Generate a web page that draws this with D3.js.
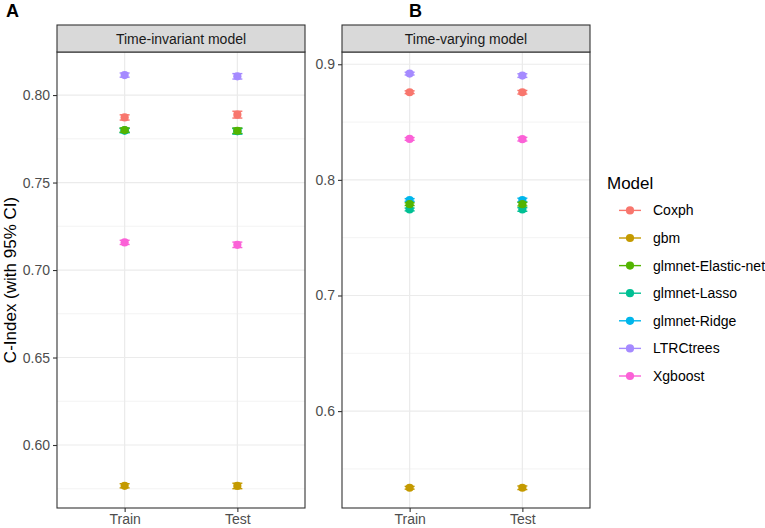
<!DOCTYPE html>
<html>
<head>
<meta charset="utf-8">
<script src="https://cdn.jsdelivr.net/npm/d3@7"></script>
<style>
  body { margin: 0; background: #fff; }
  svg { font-family: "Liberation Sans", Arial, sans-serif; }
</style>
</head>
<body>
<svg id="chart" width="765" height="528"></svg>
<script>
// data
const models = ["Coxph", "gbm", "glmnet-Elastic-net", "glmnet-Lasso", "glmnet-Ridge", "LTRCtrees", "Xgboost"];
const colors = ["#F8766D", "#C49A00", "#53B400", "#00C094", "#00B6EB", "#A58AFF", "#FB61D7"];
const sets = ["Train", "Test"];

// time-invariant model (panel A)
const invTrain = [0.7872, 0.5767, 0.7800, 0.7797, 0.7798, 0.8114, 0.7158];
const invTest  = [0.7888, 0.5766, 0.7796, 0.7793, 0.7794, 0.8107, 0.7144];
const invErr   = [0.0015, 0.0012, 0.0012, 0.0012, 0.0012, 0.0012, 0.0012];

// time-varying model (panel B)
const varTrain = [0.8758, 0.5337, 0.7790, 0.7744, 0.7826, 0.8919, 0.8354];
const varTest  = [0.8758, 0.5337, 0.7790, 0.7744, 0.7826, 0.8902, 0.8352];
const varErr   = [0.0012, 0.0012, 0.0012, 0.0012, 0.0012, 0.0012, 0.0012];

const invTicks = [0.60, 0.65, 0.70, 0.75, 0.80];
const invMinor = [0.575, 0.625, 0.675, 0.725, 0.775];
const varTicks = [0.6, 0.7, 0.8, 0.9];
const varMinor = [0.55, 0.65, 0.75, 0.85];

const svg = d3.select("#chart");
const panelTop = 52, panelBottom = 508, stripTop = 25;
const color = d3.scaleOrdinal().domain(models).range(colors);
const ptR = 4.1;

function panel(opts) {
  const {x0, x1, domain, ticks, minor, fmt, train, test, err, title, letter, letterX} = opts;
  const g = svg.append("g");
  const x = d3.scalePoint().domain(sets).range([x0, x1]).padding(0.6);
  const y = d3.scaleLinear().domain(domain).range([panelBottom, panelTop]);

  // grid
  g.selectAll("line.minor").data(minor).enter().append("line")
    .attr("x1", x0).attr("x2", x1)
    .attr("y1", d => y(d)).attr("y2", d => y(d))
    .attr("stroke", "#EBEBEB").attr("stroke-width", 0.6);
  g.selectAll("line.major").data(ticks).enter().append("line")
    .attr("x1", x0).attr("x2", x1)
    .attr("y1", d => y(d)).attr("y2", d => y(d))
    .attr("stroke", "#EBEBEB").attr("stroke-width", 1.2);
  g.selectAll("line.vmajor").data(sets).enter().append("line")
    .attr("x1", d => x(d)).attr("x2", d => x(d))
    .attr("y1", panelTop).attr("y2", panelBottom)
    .attr("stroke", "#EBEBEB").attr("stroke-width", 1.2);

  // points + error bars, drawn in reverse so the greens land on top of blue
  const pts = [];
  models.forEach((m, i) => {
    pts.push({m, set: "Train", v: train[i], e: err[i]});
    pts.push({m, set: "Test", v: test[i], e: err[i] * 1.3});
  });
  const order = [6, 5, 4, 3, 2, 1, 0];
  const sorted = [];
  order.forEach(i => pts.filter(p => p.m === models[i]).forEach(p => sorted.push(p)));

  const cap = 5;
  const pg = g.selectAll("g.pt").data(sorted).enter().append("g");
  pg.append("line")
    .attr("x1", d => x(d.set)).attr("x2", d => x(d.set))
    .attr("y1", d => y(d.v - d.e)).attr("y2", d => y(d.v + d.e))
    .attr("stroke", d => color(d.m)).attr("stroke-width", 1.4);
  pg.append("line")
    .attr("x1", d => x(d.set) - cap).attr("x2", d => x(d.set) + cap)
    .attr("y1", d => y(d.v - d.e)).attr("y2", d => y(d.v - d.e))
    .attr("stroke", d => color(d.m)).attr("stroke-width", 1.4);
  pg.append("line")
    .attr("x1", d => x(d.set) - cap).attr("x2", d => x(d.set) + cap)
    .attr("y1", d => y(d.v + d.e)).attr("y2", d => y(d.v + d.e))
    .attr("stroke", d => color(d.m)).attr("stroke-width", 1.4);
  pg.append("circle")
    .attr("cx", d => x(d.set)).attr("cy", d => y(d.v))
    .attr("r", ptR).attr("fill", d => color(d.m));

  // panel border
  g.append("rect").attr("x", x0).attr("y", panelTop)
    .attr("width", x1 - x0).attr("height", panelBottom - panelTop)
    .attr("fill", "none").attr("stroke", "#333333").attr("stroke-width", 1.1);

  // strip
  g.append("rect").attr("x", x0).attr("y", stripTop)
    .attr("width", x1 - x0).attr("height", panelTop - stripTop)
    .attr("fill", "#D9D9D9").attr("stroke", "#333333").attr("stroke-width", 1.1);
  g.append("text").attr("x", (x0 + x1) / 2).attr("y", (stripTop + panelTop) / 2 + 5)
    .attr("text-anchor", "middle").attr("font-size", 14).attr("fill", "#1A1A1A")
    .text(title);

  // axes
  const ya = g.append("g").attr("transform", `translate(${x0},0)`)
    .call(d3.axisLeft(y).tickValues(ticks).tickFormat(d3.format(fmt)).tickSize(4).tickPadding(3));
  ya.select(".domain").remove();
  ya.selectAll("line").attr("stroke", "#333333").attr("stroke-width", 1.1);
  ya.selectAll("text").attr("font-size", 14).attr("fill", "#4D4D4D");

  const xa = g.append("g").attr("transform", `translate(0,${panelBottom})`)
    .call(d3.axisBottom(x).tickSize(4).tickPadding(2));
  xa.select(".domain").remove();
  xa.selectAll("line").attr("stroke", "#333333").attr("stroke-width", 1.1);
  xa.selectAll("text").attr("font-size", 14).attr("fill", "#4D4D4D");

  svg.append("text").attr("x", letterX).attr("y", 17)
    .attr("font-size", 18).attr("font-weight", "bold").attr("fill", "#000")
    .text(letter);
}

panel({x0: 57, x1: 305, domain: [0.5640, 0.8246], ticks: invTicks, minor: invMinor, fmt: ".2f",
  train: invTrain, test: invTest, err: invErr, title: "Time-invariant model", letter: "A", letterX: 6});
panel({x0: 342, x1: 590, domain: [0.5162, 0.9106], ticks: varTicks, minor: varMinor, fmt: ".1f",
  train: varTrain, test: varTest, err: varErr, title: "Time-varying model", letter: "B", letterX: 409});

// y axis title
svg.append("text")
  .attr("transform", "translate(16,280) rotate(-90)")
  .attr("text-anchor", "middle").attr("font-size", 17).attr("fill", "#000")
  .text("C-Index (with 95% CI)");

// legend
const leg = svg.append("g");
leg.append("text").attr("x", 607).attr("y", 189)
  .attr("font-size", 17).attr("fill", "#000").text("Model");
const ly = d3.scalePoint().domain(models).range([210.4, 376]);
const li = leg.selectAll("g.item").data(models).enter().append("g")
  .attr("transform", d => `translate(0,${ly(d)})`);
li.append("line").attr("x1", 619).attr("x2", 641)
  .attr("stroke", d => color(d)).attr("stroke-width", 1.4);
li.append("circle").attr("cx", 630).attr("r", ptR).attr("fill", d => color(d));
li.append("text").attr("x", 653).attr("y", 5)
  .attr("font-size", 14).attr("fill", "#000").text(d => d);
</script>
</body>
</html>
